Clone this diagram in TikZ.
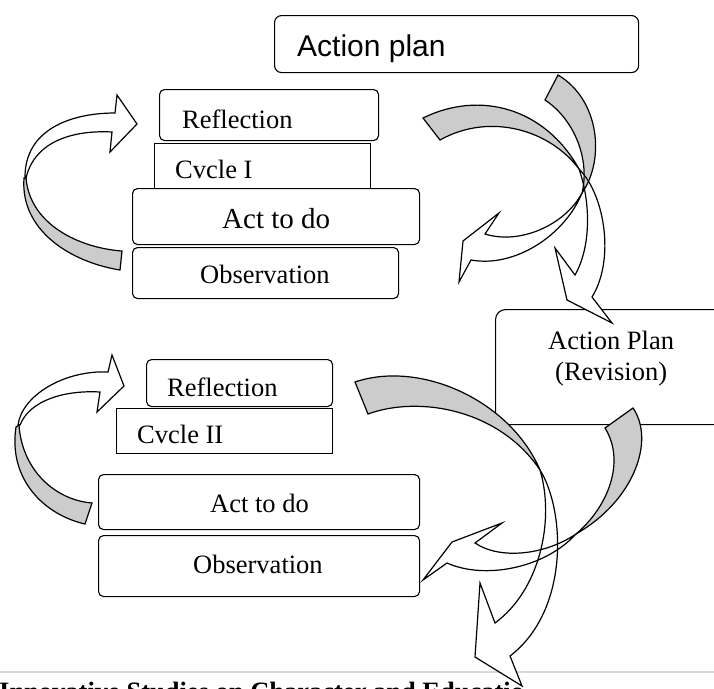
\documentclass[tikz,border=0pt]{standalone}
\usepackage{fontspec}
\setmainfont{Liberation Serif}
\newfontfamily\arialfont{Liberation Sans}
\definecolor{arrgray}{RGB}{204,204,204}
\definecolor{rulegray}{RGB}{217,217,217}
% block-arrow outlines (pixel units, y downward)
\newcommand\pAw{(25,177) .. controls (25,130) and (70,113) .. (115,113) -- (117,95) -- (137,124) -- (110,152) -- (112,132) .. controls (75,130) and (35,140) .. (26,178) -- cycle}
\newcommand\pAg{(24,178) .. controls (20,230) and (70,262) .. (120,270) -- (122,251) .. controls (80,248) and (30,225) .. (26,178) -- cycle}
\newcommand\pBw{(18,425) .. controls (22,395) and (65,370) .. (108,372) -- (112,355) -- (124,386) -- (97,412) -- (100,392) .. controls (65,390) and (30,400) .. (20,425) -- cycle}
\newcommand\pBg{(16,427) .. controls (8,480) and (45,515) .. (85,524) -- (92,503) .. controls (55,500) and (22,470) .. (19,425) -- cycle}
\newcommand\pCtwog{(423,118) .. controls (480,90) and (545,108) .. (579,169) .. controls (550,130) and (490,112) .. (440,140) -- cycle}
\newcommand\pCtwow{(579,169) .. controls (605,195) and (615,260) .. (592,297) -- (612,323) -- (567,300) -- (555,248) -- (575,275) .. controls (592,245) and (590,200) .. (579,169) -- cycle}
\newcommand\pConeg{(558,75) .. controls (600,100) and (605,160) .. (582,193) .. controls (590,160) and (575,120) .. (545,100) -- cycle}
\newcommand\pConew{(582,193) .. controls (565,235) and (515,268) .. (471,260) -- (459,282) -- (463,241) -- (499,213) -- (485,234) .. controls (520,245) and (565,225) .. (582,193) -- cycle}
\newcommand\pDoneg{(633,408) .. controls (655,440) and (635,500) .. (576,534) .. controls (610,505) and (625,460) .. (605,428) -- cycle}
\newcommand\pDonew{(576,534) .. controls (545,568) and (485,580) .. (447,563) -- (423,580) -- (452,542) -- (502,523) -- (475,543) .. controls (500,560) and (545,555) .. (576,534) -- cycle}
\newcommand\pDtwog{(355,382) .. controls (420,360) and (510,400) .. (540,470) .. controls (500,410) and (420,395) .. (368,414) -- cycle}
\newcommand\pDtwow{(540,470) .. controls (565,510) and (570,610) .. (510,656) -- (522,686) -- (475,657) -- (480,583) -- (495,623) .. controls (540,590) and (555,520) .. (540,470) -- cycle}
\begin{document}
\begin{tikzpicture}[x=1pt,y=-1pt,
  box/.style={draw, line width=1.1pt, rounded corners=5pt, fill=white, inner sep=0pt, anchor=north west},
  sqbox/.style={draw, line width=1.1pt, fill=white, inner sep=0pt, anchor=north west},
  txt/.style={inner sep=0pt, anchor=base west, font=\fontsize{26.5}{30}\selectfont},
  outl/.style={draw=black, line width=1.2pt, line join=miter}]
\clip (0,0) rectangle (714,688);
\fill[white] (0,0) rectangle (714,688);
% boxes
\node[box, rounded corners=7pt, minimum width=364pt, minimum height=57pt] (ap) at (274,15) {};
\node[box, minimum width=219pt, minimum height=51pt] (r1) at (159,89) {};
\node[sqbox, minimum width=216pt, minimum height=52pt] (c1) at (154,143) {};
\node[box, minimum width=287pt, minimum height=56pt] (a1) at (132,188) {};
\node[box, minimum width=266pt, minimum height=51pt] (o1) at (132,247) {};
\node[box, rounded corners=10pt, minimum width=240pt, minimum height=115pt] (rev) at (495,309) {};
\node[box, minimum width=186pt, minimum height=47pt] (r2) at (146,359) {};
\node[sqbox, minimum width=216pt, minimum height=45pt] (c2) at (116,408) {};
\node[box, minimum width=321pt, minimum height=55pt] (a2) at (98,474) {};
\node[box, minimum width=321pt, minimum height=61pt] (o2) at (98,535) {};
% texts
\node[txt, font=\arialfont\fontsize{30}{34}\selectfont] (tap) at (297,56) {Action plan};
\node[txt] (tr1) at (182,128) {Reflection};
\node[txt] (tc1) at (175,178) {Cvcle I};
\node[txt, font=\fontsize{29}{32}\selectfont] (ta1) at (222,228) {Act to do};
\node[txt] (to1) at (200,283) {Observation};
\node[txt] (trev1) at (548,349) {Action Plan};
\node[txt] (trev2) at (555,380) {(Revision)};
\node[txt] (tr2) at (167,396) {Reflection};
\node[txt] (tc2) at (137,443) {Cvcle II};
\node[txt] (ta2) at (210,512) {Act to do};
\node[txt] (to2) at (193,573) {Observation};
% running foot
\draw[rulegray, line width=2pt] (0,672) -- (714,672);
\begin{scope}
\clip (-5,674) rectangle (521,700);
\node[txt, font=\bfseries\fontsize{26.5}{30}\selectfont] (foot) at (-1,700) {Innovative Studies on Character and Education};
\end{scope}
% curved block arrows: white parts, grey parts, then outlines
\fill[white] \pAw; \fill[white] \pBw; \fill[white] \pCtwow; \fill[white] \pConew; \fill[white] \pDonew; \fill[white] \pDtwow;
\fill[arrgray] \pAg; \fill[arrgray] \pBg; \fill[arrgray] \pCtwog; \fill[arrgray] \pConeg; \fill[arrgray] \pDoneg; \fill[arrgray] \pDtwog;
\path[outl] \pAw; \path[outl] \pAg;
\path[outl] \pBw; \path[outl] \pBg;
\path[outl] \pCtwow; \path[outl] \pCtwog;
\path[outl] \pConew; \path[outl] \pConeg;
\path[outl] \pDonew; \path[outl] \pDoneg;
\path[outl] \pDtwow; \path[outl] \pDtwog;
\end{tikzpicture}
\end{document}
